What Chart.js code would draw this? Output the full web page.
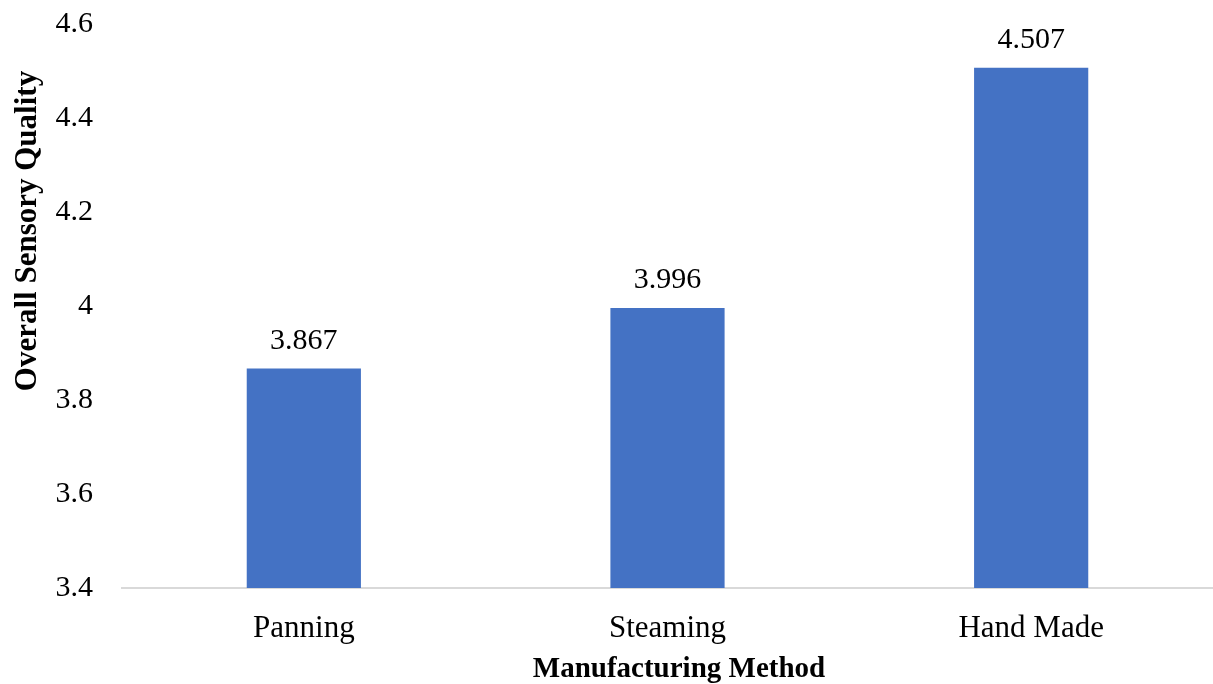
<!DOCTYPE html>
<html lang="en">
<head>
    <meta charset="UTF-8">
    <title>Overall Sensory Quality by Manufacturing Method</title>
    <script src="https://cdn.jsdelivr.net/npm/chart.js"></script>
    <style>
        html, body {
            margin: 0;
            padding: 0;
            background: #ffffff;
        }
        #chartContainer {
            width: 1213px;
            height: 684px;
        }
    </style>
</head>
<body>
    <div id="chartContainer">
        <canvas id="qualityChart"></canvas>
    </div>

    <script>
        const methods = ['Panning', 'Steaming', 'Hand Made'];
        const qualityScores = [3.867, 3.996, 4.507];
        const scoreLabels = ['3.867', '3.996', '4.507'];

        const serif = '"Liberation Serif", "Times New Roman", serif';

        // draws the value above each bar
        const valueLabels = {
            id: 'valueLabels',
            afterDatasetsDraw(chart) {
                const ctx = chart.ctx;
                const meta = chart.getDatasetMeta(0);
                ctx.save();
                ctx.font = '30px ' + serif;
                ctx.fillStyle = '#000000';
                ctx.textAlign = 'center';
                ctx.textBaseline = 'alphabetic';
                meta.data.forEach((bar, i) => {
                    ctx.fillText(scoreLabels[i], bar.x, bar.y - 20);
                });
                ctx.restore();
            }
        };

        // axis titles are not centred on the plot in the original, so draw them by hand
        const axisTitles = {
            id: 'axisTitles',
            afterDraw(chart) {
                const ctx = chart.ctx;
                ctx.save();
                ctx.fillStyle = '#000000';
                ctx.textAlign = 'center';
                ctx.textBaseline = 'middle';

                ctx.font = 'bold 29px ' + serif;
                ctx.fillText('Manufacturing Method', 679, 670);

                ctx.translate(28, 231);
                ctx.rotate(-Math.PI / 2);
                ctx.font = 'bold 31px ' + serif;
                ctx.fillText('Overall Sensory Quality', 0, 0);
                ctx.restore();
            }
        };

        const ctx = document.getElementById('qualityChart').getContext('2d');
        new Chart(ctx, {
            type: 'bar',
            data: {
                labels: methods,
                datasets: [{
                    data: qualityScores,
                    backgroundColor: '#4472C4',
                    borderWidth: 0,
                    categoryPercentage: 1,
                    barPercentage: 0.314
                }]
            },
            options: {
                responsive: true,
                maintainAspectRatio: false,
                animation: false,
                layout: {
                    padding: { top: 24, right: 0, bottom: 0, left: 0 }
                },
                plugins: {
                    legend: { display: false },
                    tooltip: { enabled: false }
                },
                scales: {
                    x: {
                        grid: { display: false },
                        border: { display: true, color: '#d9d9d9', width: 2 },
                        ticks: {
                            color: '#000000',
                            font: { family: serif, size: 31 },
                            padding: 14
                        },
                        afterFit(scale) {
                            scale.height = 96;
                            scale.paddingLeft = 0;
                            scale.paddingRight = 0;
                        }
                    },
                    y: {
                        min: 3.4,
                        max: 4.6,
                        grid: { display: false },
                        border: { display: false },
                        ticks: {
                            stepSize: 0.2,
                            color: '#000000',
                            font: { family: serif, size: 30 },
                            padding: 21,
                            callback: v => String(Number(v.toFixed(1)))
                        },
                        afterFit(scale) {
                            scale.width = 122;
                            scale.paddingTop = 0;
                            scale.paddingBottom = 0;
                        }
                    }
                }
            },
            plugins: [valueLabels, axisTitles]
        });
    </script>
</body>
</html>
